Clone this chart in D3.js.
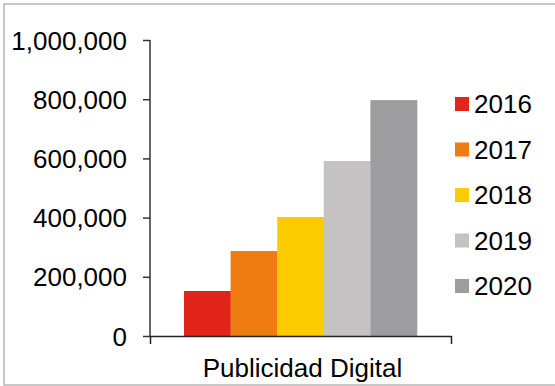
<!DOCTYPE html>
<html>
<head>
<meta charset="utf-8">
<script src="https://cdn.jsdelivr.net/npm/d3@7"></script>
<style>
  body { margin: 0; background: #fff; }
  svg text { font-family: "Liberation Sans", Arial, sans-serif; fill: #000; }
</style>
</head>
<body>
<svg id="chart"></svg>
<script>
const width = 555, height = 386;

// data
const category = "Publicidad Digital";
const years = ["2016", "2017", "2018", "2019", "2020"];
const values = [152000, 287000, 402000, 591000, 797000];
const colors = ["#E1251B", "#EE7C11", "#FDCC00", "#C4C2C3", "#9D9C9E"];
const yTicks = [0, 200000, 400000, 600000, 800000, 1000000];

const margin = { left: 150, right: 104, top: 40, bottom: 50 }; // plot = 150..451, 40..336

const svg = d3.select("#chart")
  .attr("width", width)
  .attr("height", height);

// outer frame
svg.append("rect")
  .attr("x", 4).attr("y", 4)
  .attr("width", width).attr("height", 381)
  .attr("fill", "none")
  .attr("stroke", "#b5b5b5")
  .attr("stroke-width", 1.5);

const x0 = d3.scaleBand()
  .domain([category])
  .range([margin.left, width - margin.right])
  .paddingInner(0)
  .paddingOuter(0.146);

const x1 = d3.scaleBand()
  .domain(years)
  .range([0, x0.bandwidth()]);

const y = d3.scaleLinear()
  .domain([0, 1000000])
  .range([height - margin.bottom, margin.top]);

const color = d3.scaleOrdinal().domain(years).range(colors);

// bars
const g = svg.append("g")
  .attr("transform", `translate(${x0(category)},0)`);

g.selectAll("rect")
  .data(years.map((yr, i) => ({ year: yr, value: values[i] })))
  .enter()
  .append("rect")
  .attr("x", d => x1(d.year))
  .attr("y", d => y(d.value))
  .attr("width", x1.bandwidth() + 0.3)
  .attr("height", d => y(0) - y(d.value))
  .attr("fill", d => color(d.year));

// y axis
const yAxis = svg.append("g")
  .attr("transform", `translate(${margin.left},0)`)
  .call(d3.axisLeft(y)
    .tickValues(yTicks)
    .tickFormat(d3.format(","))
    .tickSize(7)
    .tickPadding(16));
yAxis.selectAll("text").style("font-size", "26px").attr("dy", "0.35em");
yAxis.selectAll("line,path").attr("stroke", "#333").attr("stroke-width", 1.5);
yAxis.select(".domain").attr("d", `M0,${y(1000000)}H0V${y(0)}`);

// x axis
const xAxis = svg.append("g")
  .attr("transform", `translate(0,${y(0)})`)
  .call(d3.axisBottom(d3.scaleLinear().domain([0, 1]).range([margin.left, width - margin.right]))
    .tickValues([0, 1])
    .tickFormat("")
    .tickSize(8)
    .tickSizeOuter(0));
xAxis.selectAll("line,path").attr("stroke", "#222").attr("stroke-width", 1.5);

svg.append("text")
  .attr("x", x0(category) + x0.bandwidth() / 2 + 2)
  .attr("y", 377)
  .attr("text-anchor", "middle")
  .style("font-size", "26px")
  .text(category);

// legend
const legend = svg.append("g").attr("class", "legend");
years.forEach((yr, i) => {
  const cy = 104 + i * 45.5;
  legend.append("rect")
    .attr("x", 455).attr("y", cy - 7)
    .attr("width", 14).attr("height", 14)
    .attr("fill", color(yr));
  legend.append("text")
    .attr("x", 474).attr("y", cy)
    .attr("dy", "0.36em")
    .style("font-size", "26px")
    .text(yr);
});
</script>
</body>
</html>
